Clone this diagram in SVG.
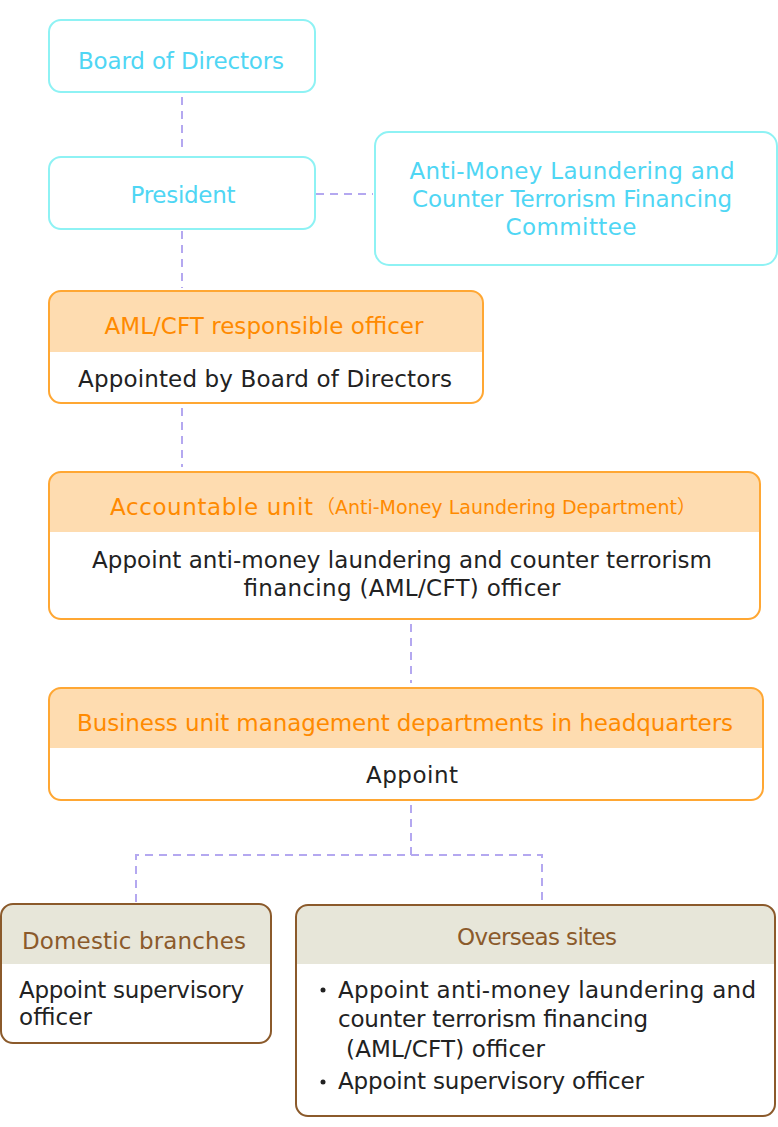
<svg xmlns="http://www.w3.org/2000/svg" width="778" height="1127" viewBox="0 0 778 1127">
<defs>
<style>
text{font-family:"DejaVu Sans","Liberation Sans","Noto Sans CJK JP",sans-serif;font-size:23px}
.sub{font-size:19px}
.cy{fill:#fff;stroke:#8ef2f4;stroke-width:2}
.cyt{fill:#4fd6f4;text-anchor:middle}
.or{fill:none;stroke:#ffa733;stroke-width:2}
.orh{fill:#fedcb0}
.ort{fill:#ff8a00}
.br{fill:none;stroke:#8b5a2b;stroke-width:2}
.brh{fill:#e7e6d9}
.brt{fill:#8b5a2b;text-anchor:middle}
.bd{fill:#222}
.c{text-anchor:middle}
.cn{fill:none;stroke:#b4a8f0;stroke-width:2;stroke-dasharray:8 6}
</style>
<clipPath id="c1"><rect x="49" y="291" width="434" height="112" rx="12"/></clipPath>
<clipPath id="c2"><rect x="49" y="472" width="711" height="147" rx="12"/></clipPath>
<clipPath id="c3"><rect x="49" y="688" width="714" height="112" rx="12"/></clipPath>
<clipPath id="c4"><rect x="1" y="904" width="270" height="139" rx="12"/></clipPath>
<clipPath id="c5"><rect x="296" y="905" width="479" height="211" rx="12"/></clipPath>
</defs>
<rect width="778" height="1127" fill="#fff"/>
<g id="connectors">
<path class="cn" d="M182 97V153"/>
<path class="cn" d="M182 231V288"/>
<path class="cn" d="M316 194H373"/>
<path class="cn" d="M182 408V467"/>
<path class="cn" d="M411 624V683"/>
<path class="cn" d="M411 805V855M136 902V855H542V902"/>
</g>
<g id="board">
<rect class="cy" x="49" y="20" width="266" height="72" rx="12"/>
<text class="cyt" x="181" y="69" textLength="206">Board of Directors</text>
</g>
<g id="president">
<rect class="cy" x="49" y="157" width="266" height="72" rx="12"/>
<text class="cyt" x="183" y="203" textLength="105">President</text>
</g>
<g id="committee">
<rect class="cy" x="375" y="132" width="402" height="133" rx="14"/>
<text class="cyt" x="572" y="179" textLength="325">Anti-Money Laundering and</text>
<text class="cyt" x="572" y="207" textLength="320">Counter Terrorism Financing</text>
<text class="cyt" x="571" y="235" textLength="131">Committee</text>
</g>
<g id="aml-officer">
<rect class="orh" x="49" y="291" width="434" height="61" clip-path="url(#c1)"/>
<rect class="or" x="49" y="291" width="434" height="112" rx="12"/>
<text class="ort c" x="264" y="334" textLength="319">AML/CFT responsible officer</text>
<text class="bd c" x="265" y="387" textLength="374">Appointed by Board of Directors</text>
</g>
<g id="accountable-unit">
<rect class="orh" x="49" y="472" width="711" height="60" clip-path="url(#c2)"/>
<rect class="or" x="49" y="472" width="711" height="147" rx="12"/>
<text class="ort" x="110" y="515" textLength="203">Accountable unit</text>
<text class="ort sub" x="316" y="514">（Anti-Money Laundering Department）</text>
<text class="bd c" x="402" y="568" textLength="620">Appoint anti-money laundering and counter terrorism</text>
<text class="bd c" x="402" y="596" textLength="317">financing (AML/CFT) officer</text>
</g>
<g id="business-unit">
<rect class="orh" x="49" y="688" width="714" height="60" clip-path="url(#c3)"/>
<rect class="or" x="49" y="688" width="714" height="112" rx="12"/>
<text class="ort c" x="405" y="731" textLength="656">Business unit management departments in headquarters</text>
<text class="bd c" x="412" y="783" textLength="92">Appoint</text>
</g>
<g id="domestic">
<rect class="brh" x="1" y="904" width="270" height="60" clip-path="url(#c4)"/>
<rect class="br" x="1" y="904" width="270" height="139" rx="12"/>
<text class="brt" x="134" y="949" textLength="224">Domestic branches</text>
<text class="bd" x="19" y="998" textLength="225">Appoint supervisory</text>
<text class="bd" x="19" y="1025" textLength="73">officer</text>
</g>
<g id="overseas">
<rect class="brh" x="296" y="905" width="479" height="59" clip-path="url(#c5)"/>
<rect class="br" x="296" y="905" width="479" height="211" rx="12"/>
<text class="brt" x="537" y="945" textLength="160">Overseas sites</text>
<circle cx="323" cy="990" r="2.5" fill="#222"/>
<text class="bd" x="338" y="998" textLength="418">Appoint anti-money laundering and</text>
<text class="bd" x="338" y="1027" textLength="310">counter terrorism financing</text>
<text class="bd" x="346" y="1057" textLength="199">(AML/CFT) officer</text>
<circle cx="323" cy="1082" r="2.5" fill="#222"/>
<text class="bd" x="338" y="1089" textLength="306">Appoint supervisory officer</text>
</g>
</svg>
